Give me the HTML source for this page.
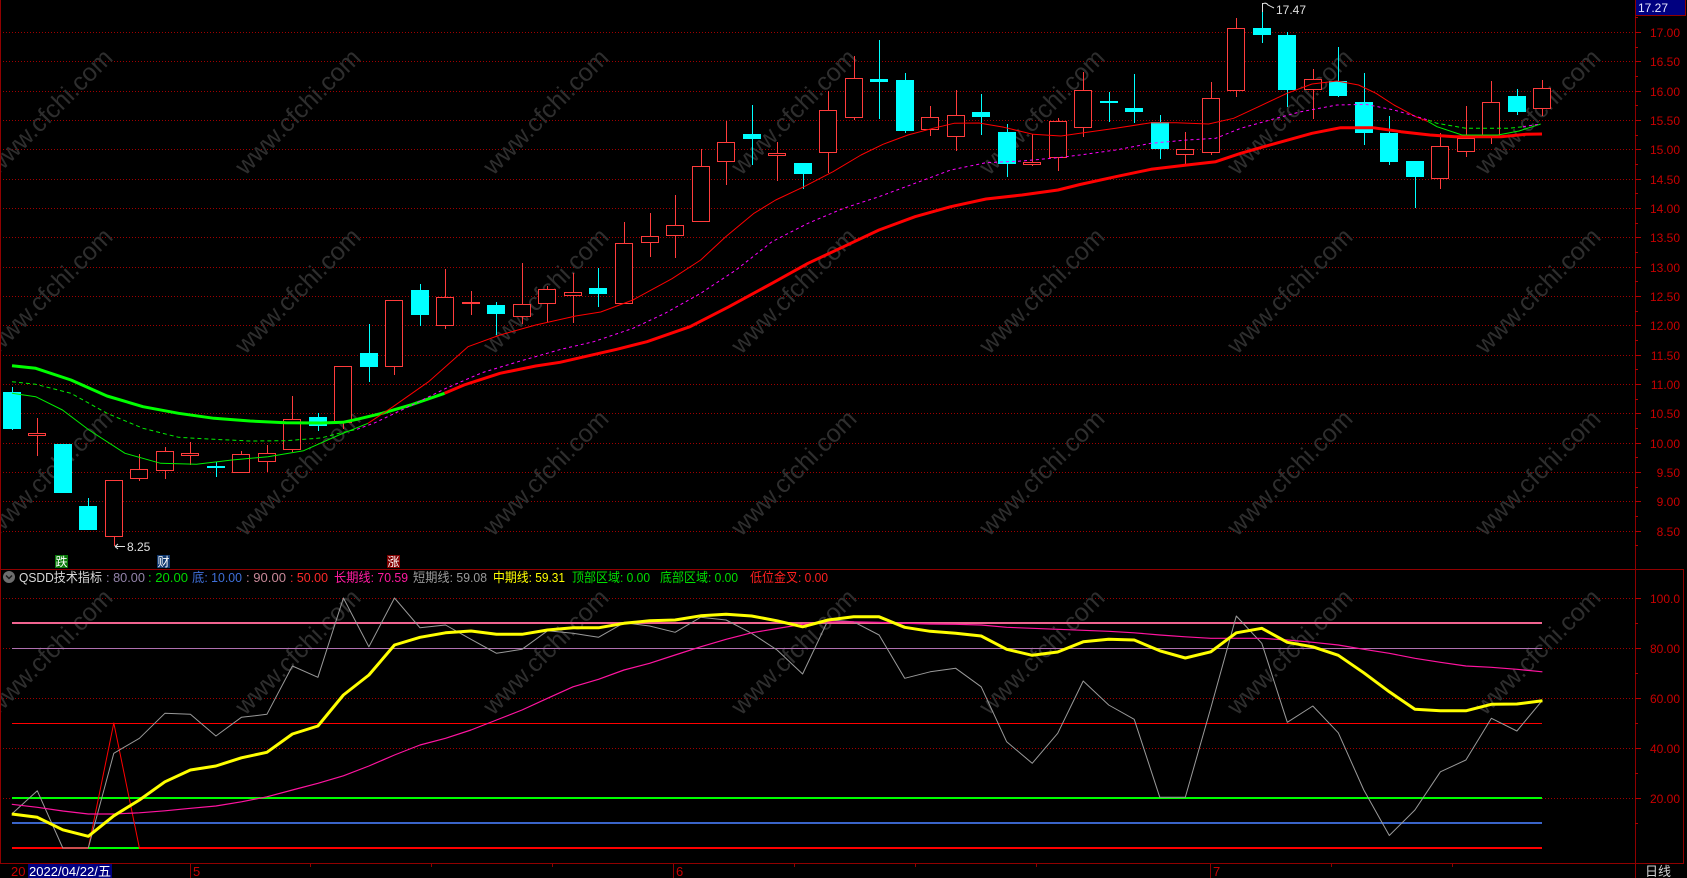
<!DOCTYPE html>
<html><head><meta charset="utf-8"><style>
html,body{margin:0;padding:0;background:#000;}
svg{display:block;}
text{font-family:"Liberation Sans","Noto Sans CJK SC",sans-serif;}
</style></head><body>
<svg width="1687" height="878" viewBox="0 0 1687 878" xmlns="http://www.w3.org/2000/svg">
<rect width="1687" height="878" fill="#000"/>
<!-- grid -->
<g stroke="#a00000" stroke-width="1" stroke-dasharray="1,2" shape-rendering="crispEdges">
<line x1="0" y1="32.5" x2="1634" y2="32.5"/><line x1="0" y1="61.5" x2="1634" y2="61.5"/><line x1="0" y1="91.5" x2="1634" y2="91.5"/><line x1="0" y1="120.5" x2="1634" y2="120.5"/><line x1="0" y1="149.5" x2="1634" y2="149.5"/><line x1="0" y1="179.5" x2="1634" y2="179.5"/><line x1="0" y1="208.5" x2="1634" y2="208.5"/><line x1="0" y1="237.5" x2="1634" y2="237.5"/><line x1="0" y1="267.5" x2="1634" y2="267.5"/><line x1="0" y1="296.5" x2="1634" y2="296.5"/><line x1="0" y1="325.5" x2="1634" y2="325.5"/><line x1="0" y1="355.5" x2="1634" y2="355.5"/><line x1="0" y1="384.5" x2="1634" y2="384.5"/><line x1="0" y1="413.5" x2="1634" y2="413.5"/><line x1="0" y1="443.5" x2="1634" y2="443.5"/><line x1="0" y1="472.5" x2="1634" y2="472.5"/><line x1="0" y1="501.5" x2="1634" y2="501.5"/><line x1="0" y1="531.5" x2="1634" y2="531.5"/>
<line x1="0" y1="598.5" x2="1634" y2="598.5"/><line x1="0" y1="648.5" x2="1634" y2="648.5"/><line x1="0" y1="698.5" x2="1634" y2="698.5"/><line x1="0" y1="748.5" x2="1634" y2="748.5"/><line x1="0" y1="798.5" x2="1634" y2="798.5"/>
</g>
<!-- watermarks -->
<g fill="#2e2e2e" font-size="25" text-anchor="middle">
<text x="50" y="120" transform="rotate(-45 50 112)">www.cfchi.com</text><text x="298" y="120" transform="rotate(-45 298 112)">www.cfchi.com</text><text x="546" y="120" transform="rotate(-45 546 112)">www.cfchi.com</text><text x="794" y="120" transform="rotate(-45 794 112)">www.cfchi.com</text><text x="1042" y="120" transform="rotate(-45 1042 112)">www.cfchi.com</text><text x="1290" y="120" transform="rotate(-45 1290 112)">www.cfchi.com</text><text x="1538" y="120" transform="rotate(-45 1538 112)">www.cfchi.com</text>
<text x="50" y="299" transform="rotate(-45 50 291)">www.cfchi.com</text><text x="298" y="299" transform="rotate(-45 298 291)">www.cfchi.com</text><text x="546" y="299" transform="rotate(-45 546 291)">www.cfchi.com</text><text x="794" y="299" transform="rotate(-45 794 291)">www.cfchi.com</text><text x="1042" y="299" transform="rotate(-45 1042 291)">www.cfchi.com</text><text x="1290" y="299" transform="rotate(-45 1290 291)">www.cfchi.com</text><text x="1538" y="299" transform="rotate(-45 1538 291)">www.cfchi.com</text>
<text x="50" y="481" transform="rotate(-45 50 473)">www.cfchi.com</text><text x="298" y="481" transform="rotate(-45 298 473)">www.cfchi.com</text><text x="546" y="481" transform="rotate(-45 546 473)">www.cfchi.com</text><text x="794" y="481" transform="rotate(-45 794 473)">www.cfchi.com</text><text x="1042" y="481" transform="rotate(-45 1042 473)">www.cfchi.com</text><text x="1290" y="481" transform="rotate(-45 1290 473)">www.cfchi.com</text><text x="1538" y="481" transform="rotate(-45 1538 473)">www.cfchi.com</text>
<text x="50" y="660" transform="rotate(-45 50 652)">www.cfchi.com</text><text x="298" y="660" transform="rotate(-45 298 652)">www.cfchi.com</text><text x="546" y="660" transform="rotate(-45 546 652)">www.cfchi.com</text><text x="794" y="660" transform="rotate(-45 794 652)">www.cfchi.com</text><text x="1042" y="660" transform="rotate(-45 1042 652)">www.cfchi.com</text><text x="1290" y="660" transform="rotate(-45 1290 652)">www.cfchi.com</text><text x="1538" y="660" transform="rotate(-45 1538 652)">www.cfchi.com</text>
</g>
<!-- red candles wicks -->
<g stroke="#ff3c3c" stroke-width="1" shape-rendering="crispEdges">
<line x1="37.5" y1="418" x2="37.5" y2="456"/><line x1="114.5" y1="480" x2="114.5" y2="546"/><line x1="139.5" y1="454" x2="139.5" y2="481"/><line x1="165.5" y1="447" x2="165.5" y2="479"/><line x1="190.5" y1="442" x2="190.5" y2="465"/><line x1="241.5" y1="451" x2="241.5" y2="473"/><line x1="267.5" y1="445" x2="267.5" y2="472"/><line x1="292.5" y1="396" x2="292.5" y2="452"/><line x1="343.5" y1="366" x2="343.5" y2="429"/><line x1="394.5" y1="300" x2="394.5" y2="375"/><line x1="445.5" y1="269" x2="445.5" y2="329"/><line x1="471.5" y1="291" x2="471.5" y2="315"/><line x1="522.5" y1="263" x2="522.5" y2="324"/><line x1="547.5" y1="286" x2="547.5" y2="322"/><line x1="573.5" y1="273" x2="573.5" y2="323"/><line x1="624.5" y1="222" x2="624.5" y2="304"/><line x1="650.5" y1="213" x2="650.5" y2="257"/><line x1="675.5" y1="195" x2="675.5" y2="258"/><line x1="701.5" y1="149" x2="701.5" y2="222"/><line x1="726.5" y1="121" x2="726.5" y2="185"/><line x1="777.5" y1="142" x2="777.5" y2="181"/><line x1="828.5" y1="91" x2="828.5" y2="173"/><line x1="854.5" y1="56" x2="854.5" y2="120"/><line x1="930.5" y1="106" x2="930.5" y2="136"/><line x1="956.5" y1="90" x2="956.5" y2="151"/><line x1="1032.5" y1="134" x2="1032.5" y2="166"/><line x1="1058.5" y1="118" x2="1058.5" y2="171"/><line x1="1083.5" y1="72" x2="1083.5" y2="137"/><line x1="1185.5" y1="132" x2="1185.5" y2="165"/><line x1="1211.5" y1="82" x2="1211.5" y2="155"/><line x1="1236.5" y1="18" x2="1236.5" y2="97"/><line x1="1313.5" y1="69" x2="1313.5" y2="119"/><line x1="1440.5" y1="133" x2="1440.5" y2="189"/><line x1="1466.5" y1="106" x2="1466.5" y2="157"/><line x1="1491.5" y1="81" x2="1491.5" y2="144"/><line x1="1542.5" y1="80" x2="1542.5" y2="116"/>
</g>
<g fill="#000" stroke="#ff3c3c" stroke-width="1" shape-rendering="crispEdges">
<rect x="28.5" y="433.5" width="17" height="2"/><rect x="105.5" y="480.5" width="17" height="56"/><rect x="130.5" y="469.5" width="17" height="9"/><rect x="156.5" y="451.5" width="17" height="19"/><rect x="181.5" y="453.5" width="17" height="2"/><rect x="232.5" y="454.5" width="17" height="18"/><rect x="258.5" y="453.5" width="17" height="8"/><rect x="283.5" y="419.5" width="17" height="30"/><rect x="334.5" y="366.5" width="17" height="56"/><rect x="385.5" y="300.5" width="17" height="66"/><rect x="436.5" y="297.5" width="17" height="28"/><rect x="513.5" y="304.5" width="17" height="12"/><rect x="538.5" y="289.5" width="17" height="14"/><rect x="564.5" y="292.5" width="17" height="3"/><rect x="615.5" y="243.5" width="17" height="60"/><rect x="641.5" y="236.5" width="17" height="6"/><rect x="666.5" y="225.5" width="17" height="10"/><rect x="692.5" y="166.5" width="17" height="55"/><rect x="717.5" y="142.5" width="17" height="19"/><rect x="768.5" y="153.5" width="17" height="2"/><rect x="819.5" y="110.5" width="17" height="42"/><rect x="845.5" y="78.5" width="17" height="39"/><rect x="921.5" y="117.5" width="17" height="12"/><rect x="947.5" y="115.5" width="17" height="21"/><rect x="1023.5" y="162.5" width="17" height="2"/><rect x="1049.5" y="121.5" width="17" height="36"/><rect x="1074.5" y="90.5" width="17" height="37"/><rect x="1176.5" y="149.5" width="17" height="5"/><rect x="1202.5" y="98.5" width="17" height="54"/><rect x="1227.5" y="28.5" width="17" height="62"/><rect x="1304.5" y="79.5" width="17" height="10"/><rect x="1431.5" y="146.5" width="17" height="32"/><rect x="1457.5" y="138.5" width="17" height="13"/><rect x="1482.5" y="102.5" width="17" height="34"/><rect x="1533.5" y="88.5" width="17" height="20"/>
</g>
<rect x="462" y="302" width="18" height="2" fill="#ff3c3c"/>
<!-- cyan candles -->
<g stroke="#00ffff" stroke-width="1" shape-rendering="crispEdges">
<line x1="12.5" y1="387" x2="12.5" y2="430"/><line x1="88.5" y1="498" x2="88.5" y2="530"/><line x1="216.5" y1="462" x2="216.5" y2="477"/><line x1="318.5" y1="413" x2="318.5" y2="431"/><line x1="369.5" y1="324" x2="369.5" y2="382"/><line x1="420.5" y1="284" x2="420.5" y2="326"/><line x1="496.5" y1="302" x2="496.5" y2="335"/><line x1="598.5" y1="268" x2="598.5" y2="307"/><line x1="752.5" y1="105" x2="752.5" y2="165"/><line x1="803.5" y1="163" x2="803.5" y2="189"/><line x1="879.5" y1="40" x2="879.5" y2="119"/><line x1="905.5" y1="73" x2="905.5" y2="133"/><line x1="981.5" y1="94" x2="981.5" y2="135"/><line x1="1007.5" y1="124" x2="1007.5" y2="177"/><line x1="1109.5" y1="92" x2="1109.5" y2="122"/><line x1="1134.5" y1="74" x2="1134.5" y2="123"/><line x1="1160.5" y1="115" x2="1160.5" y2="159"/><line x1="1262.5" y1="3" x2="1262.5" y2="43"/><line x1="1287.5" y1="32" x2="1287.5" y2="107"/><line x1="1338.5" y1="47" x2="1338.5" y2="97"/><line x1="1364.5" y1="73" x2="1364.5" y2="145"/><line x1="1389.5" y1="116" x2="1389.5" y2="165"/><line x1="1415.5" y1="161" x2="1415.5" y2="208"/><line x1="1517.5" y1="89" x2="1517.5" y2="115"/>
</g>
<g fill="#00ffff" shape-rendering="crispEdges">
<rect x="3" y="392" width="18" height="37"/><rect x="54" y="444" width="18" height="49"/><rect x="79" y="506" width="18" height="24"/><rect x="207" y="466" width="18" height="2"/><rect x="309" y="417" width="18" height="9"/><rect x="360" y="353" width="18" height="14"/><rect x="411" y="290" width="18" height="25"/><rect x="487" y="305" width="18" height="9"/><rect x="589" y="288" width="18" height="6"/><rect x="743" y="134" width="18" height="5"/><rect x="794" y="163" width="18" height="11"/><rect x="870" y="79" width="18" height="3"/><rect x="896" y="80" width="18" height="51"/><rect x="972" y="112" width="18" height="5"/><rect x="998" y="132" width="18" height="32"/><rect x="1100" y="101" width="18" height="2"/><rect x="1125" y="108" width="18" height="4"/><rect x="1151" y="122" width="18" height="27"/><rect x="1253" y="28" width="18" height="7"/><rect x="1278" y="35" width="18" height="55"/><rect x="1329" y="81" width="18" height="15"/><rect x="1355" y="102" width="18" height="31"/><rect x="1380" y="133" width="18" height="29"/><rect x="1406" y="161" width="18" height="16"/><rect x="1508" y="96" width="18" height="16"/>
</g>
<!-- moving averages -->
<g fill="none" stroke-linejoin="round">
<polyline stroke="#00ff00" stroke-width="3" points="12,365.7 35.7,368.3 71,380 107,396 143,406.7 178.6,413.3 214,418.3 250,421 285.7,422.7 321,423 343,422.3 357,419.3 382,413.3 410.7,405 444.6,393.3"/>
<polyline stroke="#ff0000" stroke-width="3" points="444.6,393.3 464,385 500,373.3 535.7,366 560,362.3 616.8,349.3 647,341.7 690,326.7 729,306.7 772,283.3 808,263.3 843.6,246.7 879,230 915,216.7 950.7,206.7 986,199 1022,195 1058,190 1080,184.5 1115.7,176.7 1151,169.3 1187,165 1215.7,161.7 1240.7,153.3 1276,143.3 1312,133.3 1340.7,127.7 1373,127.7 1401,131.7 1430,135 1455,136.7 1501,136.7 1526,134.3 1542,134"/>
<polyline stroke="#00ee00" stroke-width="1" points="12,393.3 35.7,396.7 62.5,410 89,430 125,453.3 160.7,463.3 196.4,464.3 232,460 268,456.7 303.6,450.7 339,435 368,423.3"/>
<polyline stroke="#ff0000" stroke-width="1" points="368,423.3 393,406.7 428.6,381.7 468,346.7 500,335 535.7,325 575.7,316 600.7,312 632.9,300 672,278.7 700.7,260 725.7,236.7 754,213.3 775.7,200 804,186.7 833,171.7 861,155 883,144.3 908,135 933,128.3 954,123.3 979,123 1004,127.3 1033,134.3 1061,136 1080,133.3 1115.7,128.3 1151,122.7 1176,122.7 1208.6,124 1233.6,118.3 1258.6,106.7 1287,93.3 1312,84 1337,81 1358.6,85 1376,93.3 1394,105 1415.7,116.7 1428,121.5"/>
<polyline stroke="#00ee00" stroke-width="1" points="1428,121.5 1437,126.7 1462,135 1498,135 1519,131 1540.7,124"/>
<polyline stroke="#00ee00" stroke-width="1" stroke-dasharray="4,3" points="12,381.7 35.7,384.3 71,393.3 107,413.3 143,428.3 178.6,437.3 214,439.3 250,441 285.7,440.7 321,438 339,433.3 357,429.3"/>
<polyline stroke="#ff00ff" stroke-width="1" stroke-dasharray="3,3" points="357,429.3 375,422.7 410.7,405.7 446,388.3 482,372.7 518,361.7 561,349.3 593.6,341.7 633,328.3 665,313.3 700.7,293.3 736,270 772,241.7 808,223.3 843.6,208.3 879,196.7 915,183.3 950.7,170 986,162.7 1022,161 1058,157.7 1080,155 1115.7,150 1151,143.3 1187,140 1215.7,138.3 1240.7,128.3 1276,118.3 1301,111.7 1337,105 1365.7,104.3 1394,110 1419,117.3 1428,120"/>
<polyline stroke="#00ee00" stroke-width="1" stroke-dasharray="4,3" points="1428,120 1437,123.3 1466,128.3 1508.6,128.3 1523,126.7"/>
<polyline stroke="#ff00ff" stroke-width="1" stroke-dasharray="3,3" points="1523,126.7 1540.7,124"/>
</g>
<!-- annotations -->
<g stroke="#e0e0e0" stroke-width="1" fill="none">
<path d="M115,546.5 H125 M115,546.5 L118,544 M115,546.5 L118,549"/>
<path d="M1262.5,3 V12 M1262.5,4 Q1266,2 1268,5 L1274,8"/>
</g>
<text x="127" y="551" font-size="12" fill="#e0e0e0">8.25</text>
<text x="1276" y="14" font-size="12" fill="#e0e0e0">17.47</text>
<rect x="55" y="555" width="13" height="13" fill="#0a7a0a"/><text x="61.5" y="566" font-size="12" fill="#fff" text-anchor="middle">跌</text>
<rect x="157" y="555" width="13" height="13" fill="#10386e"/><text x="163.5" y="566" font-size="12" fill="#fff" text-anchor="middle">财</text>
<rect x="387" y="555" width="13" height="13" fill="#800000"/><text x="393.5" y="566" font-size="12" fill="#fff" text-anchor="middle">涨</text>
<!-- separators / axis -->
<g stroke="#900000" stroke-width="1" shape-rendering="crispEdges">
<line x1="0" y1="569.5" x2="1684" y2="569.5"/>
<line x1="0" y1="863.5" x2="1684" y2="863.5"/>
<line x1="1635.5" y1="0" x2="1635.5" y2="878"/>
<line x1="1683.5" y1="569" x2="1683.5" y2="864"/>
<line x1="0.5" y1="0" x2="0.5" y2="863"/>
</g>
<g stroke="#b00000" stroke-width="1" shape-rendering="crispEdges">
<line x1="1635" y1="32.5" x2="1641" y2="32.5"/><line x1="1635" y1="61.5" x2="1641" y2="61.5"/><line x1="1635" y1="91.5" x2="1641" y2="91.5"/><line x1="1635" y1="120.5" x2="1641" y2="120.5"/><line x1="1635" y1="149.5" x2="1641" y2="149.5"/><line x1="1635" y1="179.5" x2="1641" y2="179.5"/><line x1="1635" y1="208.5" x2="1641" y2="208.5"/><line x1="1635" y1="237.5" x2="1641" y2="237.5"/><line x1="1635" y1="267.5" x2="1641" y2="267.5"/><line x1="1635" y1="296.5" x2="1641" y2="296.5"/><line x1="1635" y1="325.5" x2="1641" y2="325.5"/><line x1="1635" y1="355.5" x2="1641" y2="355.5"/><line x1="1635" y1="384.5" x2="1641" y2="384.5"/><line x1="1635" y1="413.5" x2="1641" y2="413.5"/><line x1="1635" y1="443.5" x2="1641" y2="443.5"/><line x1="1635" y1="472.5" x2="1641" y2="472.5"/><line x1="1635" y1="501.5" x2="1641" y2="501.5"/><line x1="1635" y1="531.5" x2="1641" y2="531.5"/>
<line x1="1635" y1="17.5" x2="1638" y2="17.5"/><line x1="1635" y1="47.5" x2="1638" y2="47.5"/><line x1="1635" y1="76.5" x2="1638" y2="76.5"/><line x1="1635" y1="105.5" x2="1638" y2="105.5"/><line x1="1635" y1="135.5" x2="1638" y2="135.5"/><line x1="1635" y1="164.5" x2="1638" y2="164.5"/><line x1="1635" y1="193.5" x2="1638" y2="193.5"/><line x1="1635" y1="223.5" x2="1638" y2="223.5"/><line x1="1635" y1="252.5" x2="1638" y2="252.5"/><line x1="1635" y1="281.5" x2="1638" y2="281.5"/><line x1="1635" y1="311.5" x2="1638" y2="311.5"/><line x1="1635" y1="340.5" x2="1638" y2="340.5"/><line x1="1635" y1="369.5" x2="1638" y2="369.5"/><line x1="1635" y1="399.5" x2="1638" y2="399.5"/><line x1="1635" y1="428.5" x2="1638" y2="428.5"/><line x1="1635" y1="457.5" x2="1638" y2="457.5"/><line x1="1635" y1="487.5" x2="1638" y2="487.5"/><line x1="1635" y1="516.5" x2="1638" y2="516.5"/><line x1="1635" y1="545.5" x2="1638" y2="545.5"/>
<line x1="1635" y1="598.5" x2="1641" y2="598.5"/><line x1="1635" y1="648.5" x2="1641" y2="648.5"/><line x1="1635" y1="698.5" x2="1641" y2="698.5"/><line x1="1635" y1="748.5" x2="1641" y2="748.5"/><line x1="1635" y1="798.5" x2="1641" y2="798.5"/>
<line x1="1635" y1="623.5" x2="1638" y2="623.5"/><line x1="1635" y1="673.5" x2="1638" y2="673.5"/><line x1="1635" y1="723.5" x2="1638" y2="723.5"/><line x1="1635" y1="773.5" x2="1638" y2="773.5"/><line x1="1635" y1="823.5" x2="1638" y2="823.5"/>
</g>
<g fill="#c80000" font-size="12" text-anchor="end">
<text x="1680" y="37">17.00</text><text x="1680" y="66">16.50</text><text x="1680" y="96">16.00</text><text x="1680" y="125">15.50</text><text x="1680" y="154">15.00</text><text x="1680" y="184">14.50</text><text x="1680" y="213">14.00</text><text x="1680" y="242">13.50</text><text x="1680" y="272">13.00</text><text x="1680" y="301">12.50</text><text x="1680" y="330">12.00</text><text x="1680" y="360">11.50</text><text x="1680" y="389">11.00</text><text x="1680" y="418">10.50</text><text x="1680" y="448">10.00</text><text x="1680" y="477">9.50</text><text x="1680" y="506">9.00</text><text x="1680" y="536">8.50</text>
<text x="1680" y="603">100.0</text><text x="1680" y="653">80.00</text><text x="1680" y="703">60.00</text><text x="1680" y="753">40.00</text><text x="1680" y="803">20.00</text>
</g>
<rect x="1636" y="0" width="49" height="15" fill="#000080"/>
<line x1="1636" y1="15.5" x2="1685" y2="15.5" stroke="#900000"/>
<line x1="1685.5" y1="0" x2="1685.5" y2="16" stroke="#900000"/>
<text x="1638" y="12" font-size="12" fill="#e8e8ff">17.27</text>
<!-- indicator header -->
<circle cx="9" cy="577" r="6" fill="#6e6e6e"/>
<path d="M6,575.5 L9,578.5 L12,575.5" stroke="#1a1a1a" stroke-width="1.5" fill="none"/>
<g font-size="13">
<text x="19" y="582" fill="#d8d8d8" textLength="83" lengthAdjust="spacingAndGlyphs">QSDD技术指标</text>
<text x="106" y="582" fill="#9484aa" textLength="39" lengthAdjust="spacingAndGlyphs">: 80.00</text>
<text x="148" y="582" fill="#00d800" textLength="40" lengthAdjust="spacingAndGlyphs">: 20.00</text>
<text x="192" y="582" fill="#3f6fd8" textLength="50" lengthAdjust="spacingAndGlyphs">底: 10.00</text>
<text x="246" y="582" fill="#c88898" textLength="40" lengthAdjust="spacingAndGlyphs">: 90.00</text>
<text x="290" y="582" fill="#ff2a2a" textLength="38" lengthAdjust="spacingAndGlyphs">: 50.00</text>
<text x="334" y="582" fill="#ff1aa0" textLength="74" lengthAdjust="spacingAndGlyphs">长期线: 70.59</text>
<text x="413" y="582" fill="#9a9a9a" textLength="74" lengthAdjust="spacingAndGlyphs">短期线: 59.08</text>
<text x="493" y="582" fill="#ffff00" textLength="72" lengthAdjust="spacingAndGlyphs">中期线: 59.31</text>
<text x="572" y="582" fill="#00e000" textLength="78" lengthAdjust="spacingAndGlyphs">顶部区域: 0.00</text>
<text x="660" y="582" fill="#00e000" textLength="78" lengthAdjust="spacingAndGlyphs">底部区域: 0.00</text>
<text x="750" y="582" fill="#ff2020" textLength="78" lengthAdjust="spacingAndGlyphs">低位金叉: 0.00</text>
</g>
<!-- indicator horizontal lines -->
<g shape-rendering="crispEdges">
<line x1="12" y1="623" x2="1542" y2="623" stroke="#f06490" stroke-width="2"/>
<line x1="12" y1="648.5" x2="1542" y2="648.5" stroke="#b070b0" stroke-width="1"/>
<line x1="12" y1="723.5" x2="1542" y2="723.5" stroke="#ff0000" stroke-width="1"/>
<line x1="12" y1="798" x2="1542" y2="798" stroke="#00ff00" stroke-width="2"/>
<line x1="12" y1="823" x2="1542" y2="823" stroke="#3a64c8" stroke-width="2"/>
<line x1="12" y1="848" x2="1542" y2="848" stroke="#ff0000" stroke-width="2"/>
<line x1="88" y1="848" x2="139" y2="848" stroke="#00ff00" stroke-width="2"/>
</g>
<g fill="none" stroke-linejoin="round">
<polyline stroke="#ff0000" stroke-width="1" points="88.3,848 113.8,723 139.4,848"/>
<polyline stroke="#9a9a9a" stroke-width="1" points="11.8,814 37.3,790.8 62.8,848 88.3,848 113.8,753.3 139.4,738.3 164.9,713.3 190.4,714.3 215.9,736 241.4,717.3 266.9,714.3 292.4,666 317.9,677.3 343.4,598 368.9,646.8 394.5,598 420,627.8 445.5,625 471,639.3 496.5,653.3 522,649.3 547.5,630.8 573,633.3 598.5,637.3 624,622.8 649.6,626 675.1,632.3 700.6,617.3 726.1,620 751.6,633.3 777.1,650 802.6,674 828.1,620 853.6,621.8 879.1,635 904.7,678.3 930.2,671.8 955.7,668.3 981.2,686.8 1006.7,741.8 1032.2,763.3 1057.7,733.3 1083.2,681 1108.7,705 1134.2,719.3 1159.8,797.3 1185.3,797.3 1210.8,708 1236.3,616 1261.8,643.3 1287.3,722.3 1312.8,706 1338.3,732.8 1363.8,790 1389.3,835.5 1414.9,810 1440.4,771.8 1465.9,760 1491.4,718.3 1516.9,731 1542.4,700.3"/>
<polyline stroke="#ff14a0" stroke-width="1.2" points="11.8,804.3 37.3,807.3 62.8,811 88.3,814 113.8,814 139.4,812.8 164.9,810.8 190.4,808.3 215.9,806 241.4,801.8 266.9,796.8 292.4,790 317.9,783.3 343.4,775.8 368.9,766 394.5,755 420,745 445.5,738.3 471,730 496.5,720 522,710 547.5,698.3 573,686.8 598.5,679.3 624,670 649.6,663.3 675.1,655 700.6,646.8 726.1,639.3 751.6,632.8 777.1,628.5 802.6,624.3 828.1,621.8 853.6,621.8 879.1,622.3 904.7,623.3 930.2,624 955.7,624.3 981.2,625 1006.7,627.3 1032.2,628.3 1057.7,629.3 1083.2,630.3 1108.7,631.3 1134.2,632.8 1159.8,635 1185.3,636.8 1210.8,638.3 1236.3,638.3 1261.8,638.3 1287.3,640 1312.8,642.3 1338.3,645 1363.8,649.3 1389.3,653.3 1414.9,658.3 1440.4,662.3 1465.9,666 1491.4,667.3 1516.9,669.3 1542.4,671.8"/>
<polyline stroke="#ffff00" stroke-width="3" points="11.8,814 37.3,817.3 62.8,829.8 88.3,836.3 113.8,815.8 139.4,800 164.9,781.8 190.4,770 215.9,766 241.4,757.8 266.9,752.3 292.4,734 317.9,726 343.4,695 368.9,675 394.5,645 420,637.3 445.5,632.8 471,631 496.5,634.3 522,634.3 547.5,630 573,627.8 598.5,627.8 624,623.3 649.6,620.8 675.1,620 700.6,615.8 726.1,614.3 751.6,616 777.1,620.8 802.6,626.8 828.1,620 853.6,616.8 879.1,616.8 904.7,627.3 930.2,631.3 955.7,633.3 981.2,636 1006.7,649.3 1032.2,655.3 1057.7,652 1083.2,641.8 1108.7,639.3 1134.2,640 1159.8,650.8 1185.3,658 1210.8,651.8 1236.3,632.8 1261.8,628.3 1287.3,642.3 1312.8,646.8 1338.3,655.3 1363.8,672.8 1389.3,691.8 1414.9,709.3 1440.4,710.8 1465.9,710.8 1491.4,704.3 1516.9,704 1542.4,700.8"/>
</g>
<!-- bottom axis -->
<g stroke="#900000" stroke-width="1" shape-rendering="crispEdges">
<line x1="190.5" y1="863" x2="190.5" y2="878"/><line x1="673.5" y1="863" x2="673.5" y2="878"/><line x1="1210.5" y1="863" x2="1210.5" y2="878"/>
<line x1="310.5" y1="863" x2="310.5" y2="867"/><line x1="431.5" y1="863" x2="431.5" y2="867"/><line x1="552.5" y1="863" x2="552.5" y2="867"/>
<line x1="794.5" y1="863" x2="794.5" y2="867"/><line x1="915.5" y1="863" x2="915.5" y2="867"/><line x1="1036.5" y1="863" x2="1036.5" y2="867"/>
<line x1="1331.5" y1="863" x2="1331.5" y2="867"/><line x1="1452.5" y1="863" x2="1452.5" y2="867"/>
</g>
<g font-size="13" fill="#c80000">
<text x="11" y="876">20</text>
<text x="193" y="876">5</text>
<text x="676" y="876">6</text>
<text x="1213" y="876">7</text>
</g>
<rect x="28" y="864" width="84" height="14" fill="#000080"/>
<text x="29" y="876" font-size="13" fill="#ffffff" textLength="82" lengthAdjust="spacingAndGlyphs">2022/04/22/五</text>
<text x="1645" y="876" font-size="13" fill="#d0d0d0">日线</text>
</svg>
</body></html>
